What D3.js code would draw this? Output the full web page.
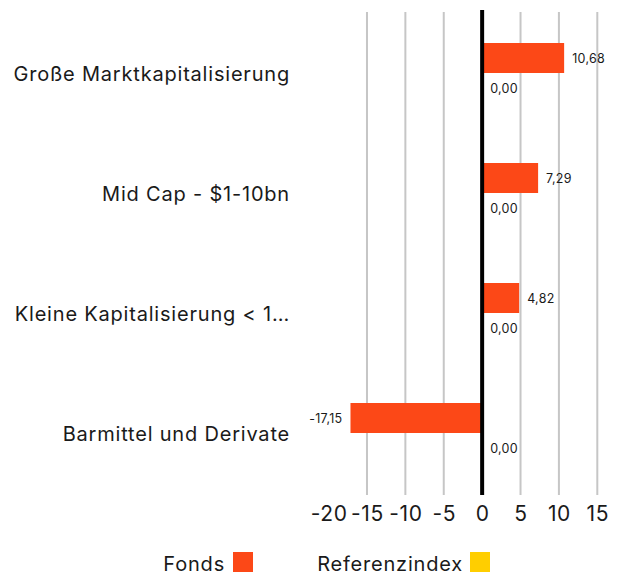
<!DOCTYPE html>
<html>
<head>
<meta charset="utf-8">
<script src="https://cdn.jsdelivr.net/npm/d3@7"></script>
<style>
  html, body { margin: 0; padding: 0; background: #fff; }
  svg text { font-family: Inter, "Open Sans", sans-serif; }
</style>
</head>
<body>
<div id="container"></div>
<script>
const width = 622, height = 576;

// Data
const categories = [
  "Große Marktkapitalisierung",
  "Mid Cap - $1-10bn",
  "Kleine Kapitalisierung < 1…",
  "Barmittel und Derivate"
];
const fonds = [10.68, 7.29, 4.82, -17.15];
const referenz = [0.00, 0.00, 0.00, 0.00];
const seriesNames = ["Fonds", "Referenzindex"];
const xTicks = [-20, -15, -10, -5, 0, 5, 10, 15];

const colors = { Fonds: "#fc4817", Referenzindex: "#ffce00" };
const ink = "#1a1a1a";

const margin = { top: 13, left: 328.6 };

const svg = d3.select("#container").append("svg")
  .attr("width", width).attr("height", height);
const g = svg.append("g").attr("transform", `translate(${margin.left},${margin.top})`);

const x = d3.scaleLinear().domain([-20, 15]).range([0, 268.7]);
const y = d3.scaleBand().domain(categories).range([0, 480]);
const inner = d3.scaleBand().domain(seriesNames).range([30, 90]);

// grid lines (skip the outer -20 and the zero line)
xTicks.filter(d => d !== -20 && d !== 0).forEach(d => {
  g.append("line")
    .attr("x1", x(d)).attr("x2", x(d))
    .attr("y1", -1).attr("y2", 482)
    .attr("stroke", "#c6c6c6").attr("stroke-width", 2);
});

const fmt = v => v.toFixed(2).replace(".", ",");

// bars
categories.forEach((c, i) => {
  const vals = { Fonds: fonds[i], Referenzindex: referenz[i] };
  seriesNames.forEach(s => {
    const v = vals[s];
    const y0 = y(c) + inner(s);
    g.append("rect")
      .attr("x", x(Math.min(0, v)))
      .attr("y", y0)
      .attr("width", Math.abs(x(v) - x(0)))
      .attr("height", inner.bandwidth())
      .attr("fill", colors[s]);
    const pos = v >= 0;
    g.append("text")
      .attr("x", pos ? x(v) + 8 : x(v) - 8)
      .attr("y", y0 + inner.bandwidth() / 2 + 5)
      .attr("text-anchor", pos ? "start" : "end")
      .attr("fill", ink)
      .style("font-size", "12.5px")
      .style("letter-spacing", "0.3px")
      .text(fmt(v));
  });
  // category label
  svg.append("text")
    .attr("x", 290)
    .attr("y", margin.top + y(c) + y.bandwidth() / 2 + 8)
    .attr("text-anchor", "end")
    .attr("fill", ink)
    .style("font-size", "20px")
    .style("letter-spacing", "0.8px")
    .text(c);
});

// zero line
g.append("line")
  .attr("x1", x(0)).attr("x2", x(0))
  .attr("y1", -3).attr("y2", 482)
  .attr("stroke", "#000").attr("stroke-width", 4);

// x axis labels
const xAxis = g.append("g")
  .attr("transform", `translate(0,${482})`)
  .call(d3.axisBottom(x).tickValues(xTicks).tickSize(0).tickPadding(11).tickFormat(d3.format("d")));
xAxis.select(".domain").remove();
xAxis.selectAll("text")
  .attr("fill", ink)
  .style("font-size", "21px")
  .style("letter-spacing", "0.6px")
  .style("font-family", "Inter, 'Open Sans', sans-serif")
  .text(d => String(d).replace("−", "-"));

// legend
const legend = [
  { name: "Fonds", tx: 225, sx: 233 },
  { name: "Referenzindex", tx: 463, sx: 470 }
];
legend.forEach(l => {
  svg.append("text")
    .attr("x", l.tx).attr("y", 571)
    .attr("text-anchor", "end")
    .attr("fill", ink)
    .style("font-size", "20px")
    .style("letter-spacing", "0.8px")
    .text(l.name);
  svg.append("rect")
    .attr("x", l.sx).attr("y", 552)
    .attr("width", 20).attr("height", 20)
    .attr("fill", colors[l.name]);
});
</script>
</body>
</html>
